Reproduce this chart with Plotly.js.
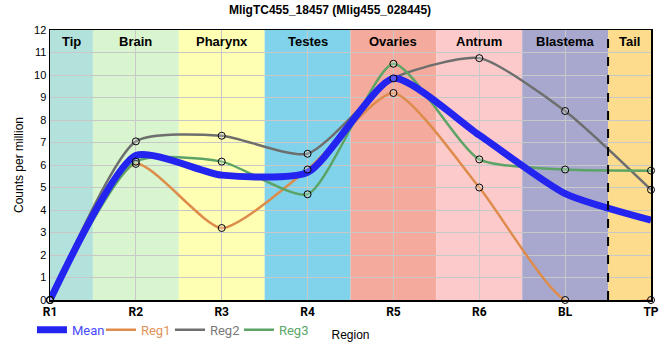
<!DOCTYPE html>
<html><head><meta charset="utf-8">
<script src="https://cdn.plot.ly/plotly-3.0.1.min.js"></script>
<style>body{margin:0;background:#fff}#c{width:660px;height:360px}</style>
</head><body><div id="c"></div>
<script>
const samples = ['R1','R2','R3','R4','R5','R6','BL','TP'];
const meanVals = [0, 6.42, 5.55, 5.67, 9.85, 7.33, 4.73, 3.55];
const reg1 = [0, 6.05, 3.2, 5.8, 9.2, 5.0, 0, 0];
const reg2 = [0, 7.05, 7.3, 6.5, 9.85, 10.75, 8.4, 4.9];
const reg3 = [0, 6.15, 6.15, 4.7, 10.5, 6.25, 5.8, 5.75];
const regionNames = ['Tip','Brain','Pharynx','Testes','Ovaries','Antrum','Blastema','Tail'];
const regionStart = [0, 0.5, 1.5, 2.5, 3.5, 4.5, 5.5, 6.5];
const regionEnd = [0.5, 1.5, 2.5, 3.5, 4.5, 5.5, 6.5, 7];
const regionColors = ['#b3e2dc','#d9f5cf','#ffffb3','#80d3ea','#f4aa9c','#fdcacb','#a8a8cf','#fddc8e'];

const xs = samples.map((s,i)=>i);
const mk = {symbol:'circle', size:7, color:'rgba(255,255,255,0.25)', line:{color:'#000', width:1}};
const sm = 0.6;
function lineTrace(y, name, color, width, rank){
  return {x:xs, y:y, name:name, mode:'lines', line:{shape:'spline', smoothing:sm, color:color, width:width}, legendrank:rank};
}
function markTrace(y){
  return {x:xs, y:y, mode:'markers', marker:mk, cliponaxis:false, showlegend:false, hoverinfo:'skip'};
}
const traces = [
  lineTrace(reg2, '<span style="color:#7a7a7a">Reg2</span>', '#6e6e6e', 2.5, 3),
  lineTrace(reg1, '<span style="color:#e0945a">Reg1</span>', '#de8c4c', 2.5, 2),
  lineTrace(reg3, '<span style="color:#5aa86a">Reg3</span>', '#5ba466', 2.5, 4),
  lineTrace(meanVals, '<span style="color:#4a4aff">Mean</span>', '#2424f0', 7, 1),
  markTrace(reg2), markTrace(reg1), markTrace(reg3)
];

const shapes = regionNames.map((n,i)=>({type:'rect', xref:'x', yref:'paper', x0:regionStart[i], x1:regionEnd[i], y0:0, y1:1, fillcolor:regionColors[i], line:{width:0}, layer:'below'}));
shapes.push({type:'line', xref:'x', yref:'paper', x0:regionEnd[6], x1:regionEnd[6], y0:0, y1:1, line:{color:'#000', width:2, dash:'dash'}});
const annotations = regionNames.map((n,i)=>({xref:'x', yref:'paper', x:(regionStart[i]+regionEnd[i])/2, y:1, yanchor:'top', yshift:-2, text:'<b>'+n+'</b>', showarrow:false, font:{size:13, color:'#000', family:'Liberation Sans, Arial'}}));

const layout = {
  width:660, height:360,
  margin:{l:50, r:9, t:30, b:60},
  paper_bgcolor:'#fff', plot_bgcolor:'#fff',
  font:{family:'Liberation Sans, Arial', size:11, color:'#000'},
  title:{text:'<b>MligTC455_18457 (Mlig455_028445)</b>', font:{size:12}, x:0.5, xanchor:'center', y:0.985, yanchor:'top'},
  xaxis:{range:[0,7], tickvals:xs, ticktext:samples.map(s=>'<b>'+s+'</b>'), showgrid:true, gridcolor:'#c8c8c8', zeroline:false, showline:true, linecolor:'#000', linewidth:1.5, mirror:true, ticks:'', tickfont:{size:12, family:'Roboto, Liberation Sans'},
    title:{text:'Region', font:{size:12}, standoff:12}},
  yaxis:{range:[0,12], dtick:1, showgrid:true, gridcolor:'#c8c8c8', zeroline:false, showline:true, linecolor:'#000', linewidth:1.5, mirror:true, ticks:'', tickfont:{size:11},
    title:{text:'Counts per million', font:{size:12}, standoff:8}},
  legend:{orientation:'h', x:-0.03, xanchor:'left', y:-0.11, yanchor:'middle', font:{size:13, family:'Roboto, Liberation Sans'}, itemwidth:30, entrywidth:24, entrywidthmode:'pixels', tracegroupgap:0, bgcolor:'rgba(0,0,0,0)'},
  shapes:shapes, annotations:annotations
};
Plotly.newPlot('c', traces, layout, {displayModeBar:false, staticPlot:true});
</script></body></html>
